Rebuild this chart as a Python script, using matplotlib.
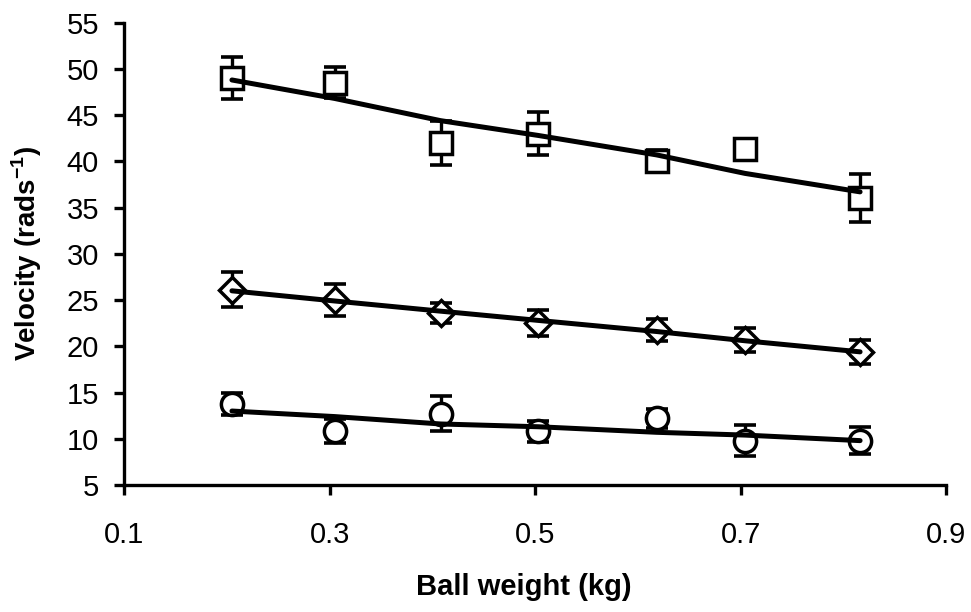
import matplotlib
matplotlib.use("Agg")
import matplotlib.pyplot as plt

plt.rcParams['font.family'] = ['Liberation Sans', 'DejaVu Sans']
plt.rcParams['mathtext.fontset'] = 'custom'
plt.rcParams['mathtext.bf'] = 'Liberation Sans:bold'
plt.rcParams['mathtext.rm'] = 'Liberation Sans'

weights = [0.205, 0.305, 0.408, 0.503, 0.618, 0.704, 0.816]

sq_vals = [49.0, 48.5, 42.0, 43.0, 40.0, 41.3, 36.0]
sq_err = [2.3, 1.7, 2.4, 2.3, 1.2, 1.0, 2.6]
sq_fit = [48.8, 46.8, 44.4, 42.8, 40.7, 38.7, 36.7]

di_vals = [26.1, 25.0, 23.6, 22.5, 21.8, 20.7, 19.4]
di_err = [1.9, 1.7, 1.1, 1.4, 1.2, 1.3, 1.3]
di_fit = [26.0, 24.9, 23.8, 22.8, 21.6, 20.6, 19.4]

ci_vals = [13.8, 10.8, 12.7, 10.8, 12.2, 9.8, 9.8]
ci_err = [1.2, 1.3, 1.9, 1.1, 1.0, 1.7, 1.5]
ci_fit = [13.0, 12.4, 11.6, 11.3, 10.7, 10.4, 9.8]

xticks = [0.1, 0.3, 0.5, 0.7, 0.9]
yticks = [5, 10, 15, 20, 25, 30, 35, 40, 45, 50, 55]

fig = plt.figure(figsize=(9.71, 6.12), dpi=100)
ax = fig.add_axes([0.1277, 0.2075, 0.847, 0.7555])

for vals, err, fit, mk, ms in [(sq_vals, sq_err, sq_fit, 's', 16),
                               (di_vals, di_err, di_fit, 'D', 13),
                               (ci_vals, ci_err, ci_fit, 'o', 16)]:
    ax.errorbar(weights, vals, yerr=err, fmt='none', ecolor='black',
                elinewidth=2.4, capsize=8, capthick=2.6, zorder=2)
    ax.plot(weights, vals, linestyle='none', marker=mk, markersize=ms,
            markerfacecolor='white', markeredgecolor='black',
            markeredgewidth=2.5, zorder=3)
    ax.plot(weights, fit, color='black', linewidth=3.6, zorder=4,
            solid_capstyle='round')

ax.set_xlim(0.1, 0.9)
ax.set_ylim(5, 55)
ax.set_xticks(xticks)
ax.set_xticklabels([f"{t:g}" for t in xticks])
ax.set_yticks(yticks)
for s in ['top', 'right']:
    ax.spines[s].set_visible(False)
for s in ['left', 'bottom']:
    ax.spines[s].set_linewidth(2.4)
ax.tick_params(direction='out', length=7, width=2.4, labelsize=21)
ax.tick_params(axis='y', pad=11)
ax.tick_params(axis='x', pad=19)
ax.set_xlabel('Ball weight (kg)', fontsize=21, fontweight='bold')
ax.xaxis.set_label_coords(0.486, -0.19)
ax.set_ylabel('Velocity (rads$^{\\mathbf{-1}}$)', fontsize=20, fontweight='bold', labelpad=16)

fig.savefig('out.png', dpi=100)
